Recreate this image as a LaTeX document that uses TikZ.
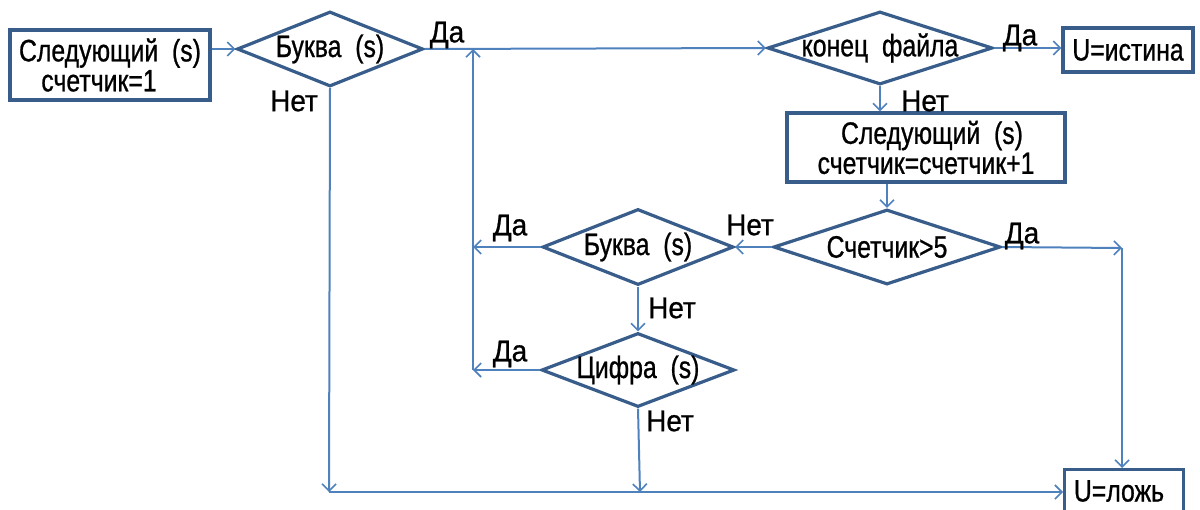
\documentclass[tikz,border=0pt]{standalone}
\usepackage{fontspec}
\setmainfont{Liberation Sans}
\newfontfamily\nf[FakeStretch=0.8,FakeBold=0.8]{Liberation Sans}
\newfontfamily\lf[FakeStretch=0.93,FakeBold=0.8]{Liberation Sans}
\usetikzlibrary{shapes.geometric,arrows.meta}
\definecolor{edge}{HTML}{385D8A}
\definecolor{conn}{HTML}{4F81BD}
\tikzset{
  dia/.style={draw=edge, line width=3.2pt, diamond, inner sep=0pt, line join=miter},
  box/.style={draw=edge, line width=3.2pt, rectangle, inner sep=0pt, align=center, font=\nf\fontsize{31}{35}\selectfont},
  dtext/.style={font=\nf\fontsize{31}{35}\selectfont, inner sep=0pt},
  lab/.style={font=\lf\fontsize{30}{34}\selectfont, inner sep=0pt},
  conn/.style={draw=conn, line width=2pt, -{Straight Barb[length=7pt,width=14pt,line width=1.6pt]}},
  plain/.style={draw=conn, line width=2pt}
}
\begin{document}
\begin{tikzpicture}[x=1pt,y=-1pt]
\useasboundingbox (0,0) rectangle (1200,509);
% nodes
\node[box, minimum width=200, minimum height=70] (b1) at (110,65) {Следующий~~(s)\\[-5pt]\hspace*{-22pt}счетчик=1};
\node[dia, minimum width=186, minimum height=75] (d1) at (330,49) {};
\node[dtext] at (d1) {Буква~~(s)};
\node[dia, minimum width=225, minimum height=73] (d2) at (880,48) {};
\node[dtext] at (d2) {конец~~файла};
\node[box, minimum width=130, minimum height=44] (bT) at (1128,50) {U=истина};
\node[box, minimum width=278, minimum height=69] (b2) at (926,147.5) {\hspace*{12pt}Следующий~~(s)\\[-5pt]счетчик=счетчик+1};
\node[dia, minimum width=227, minimum height=75] (d3) at (887,247) {};
\node[dtext] at (d3) {Счетчик>5};
\node[dia, minimum width=191, minimum height=76] (d4) at (638,247) {};
\node[dtext] at (d4) {Буква~~(s)};
\node[dia, minimum width=193, minimum height=74] (d5) at (638,370) {};
\node[dtext] at (d5) {Цифра~~(s)};
\node[box, minimum width=119, minimum height=70, anchor=north west] (bF) at (1063,468) {};
\node[dtext] at (1119,491) {U=ложь};
% coordinates
\coordinate (jv) at (473,370);
\coordinate (jt) at (473,49);
\coordinate (jb) at (329,492);
\coordinate (jm) at (640,492);
\coordinate (jr) at (1122,248);
% connectors
\draw[conn] (d1.west -| b1.east) -- (d1.west);
\draw[conn] (d1.east) -- (d2.west);
\draw[conn] (d2.east) -- (bT.west |- d2.east);
\draw[conn] (d2.south) -- (b2.north -| d2.south);
\draw[conn] (b2.south -| d3.north) -- (d3.north);
\draw[conn] (d3.west) -- (d4.east);
\draw[conn] (d4.west) -- (d4.west -| jv);
\draw[conn] (d5.west) -- (jv);
\draw[conn] (jv) -- (jt);
\draw[conn] (d4.south) -- (d5.north);
\draw[conn] (d5.south) -- (jm);
\draw[conn] (d1.south) -- (jb);
\draw[conn] (jb) -- (bF.west |- jb);
\draw[conn] (d3.east) -- (jr);
\draw[conn] (jr) -- (bF.north -| jr);
% labels
\node[lab] at (447,35) {Да};
\node[lab] at (294,101) {Нет};
\node[lab] at (1020,38) {Да};
\node[lab] at (925,101) {Нет};
\node[lab] at (750,225) {Нет};
\node[lab] at (1022,236) {Да};
\node[lab] at (510,228) {Да};
\node[lab] at (672,308) {Нет};
\node[lab] at (510,354) {Да};
\node[lab] at (670,421) {Нет};
\end{tikzpicture}
\end{document}
